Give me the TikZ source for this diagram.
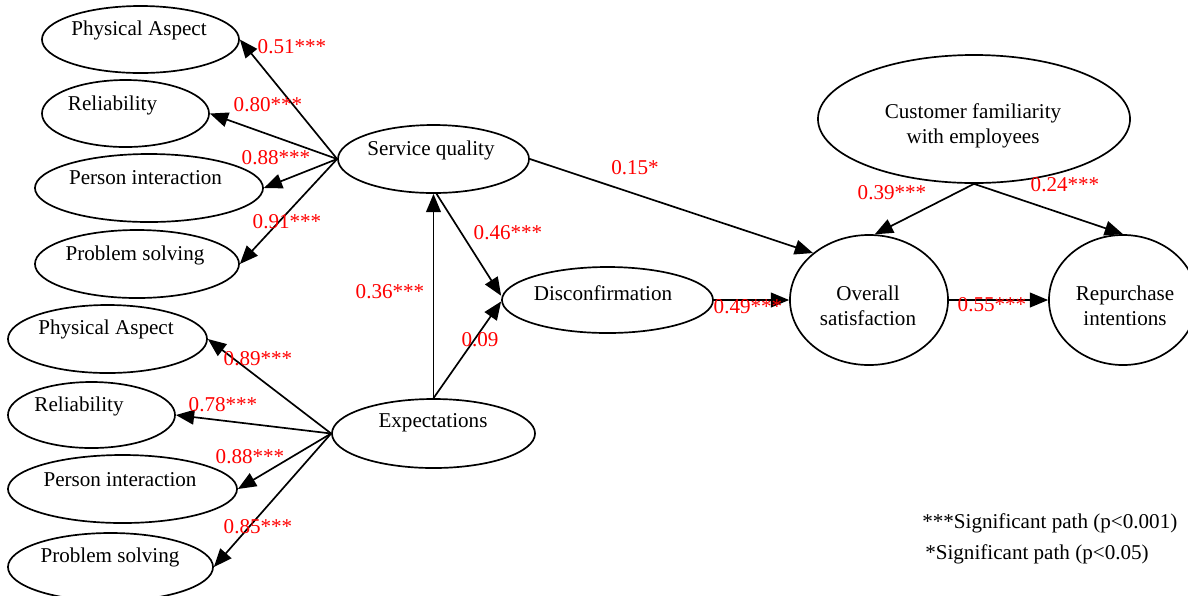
\documentclass[tikz,border=0pt]{standalone}
\usepackage{fontspec}
\setmainfont{Liberation Serif}
\usetikzlibrary{shapes.geometric,arrows.meta}

\tikzset{
    factor/.style={draw, ellipse, line width=1.2pt, inner sep=0pt},
    link/.style={line width=1.2pt, -{Triangle[length=13pt,width=10.5pt]}},
    coef/.style={text=red, inner sep=0pt},
}

\begin{document}
\begin{tikzpicture}[x=0.025cm, y=-0.025cm, every node/.style={font=\fontsize{15}{18}\selectfont}]
    \useasboundingbox (0,0) rectangle (1188,595);
    \clip (0,0) rectangle (1188,595);

    % Dimensions of service quality
    \node[factor, minimum width=4.925cm, minimum height=1.675cm, label={[shift={(-1.5,-9.5)}]center:Physical Aspect}] (pa1) at (140.5,39.5) {};
    \node[factor, minimum width=4.175cm, minimum height=1.675cm, label={[shift={(-13,-8.5)}]center:Reliability}] (rel1) at (125.5,113.5) {};
    \node[factor, minimum width=5.7cm, minimum height=1.7cm, label={[shift={(-3.5,-10)}]center:Person interaction}] (pi1) at (149,188) {};
    \node[factor, minimum width=5.1cm, minimum height=1.7cm, label={[shift={(-2,-9)}]center:Problem solving}] (ps1) at (137,264) {};

    % Dimensions of expectations
    \node[factor, minimum width=4.975cm, minimum height=1.7cm, label={[shift={(-1.5,-10)}]center:Physical Aspect}] (pa2) at (107.5,339) {};
    \node[factor, minimum width=4.175cm, minimum height=1.65cm, label={[shift={(-12.5,-9)}]center:Reliability}] (rel2) at (91.5,415) {};
    \node[factor, minimum width=5.725cm, minimum height=1.7cm, label={[shift={(-2.5,-9)}]center:Person interaction}] (pi2) at (122.5,489) {};
    \node[factor, minimum width=5.125cm, minimum height=1.7cm, label={[shift={(-0.5,-10)}]center:Problem solving}] (ps2) at (110.5,567) {};

    % Main constructs
    \node[factor, minimum width=4.775cm, minimum height=1.7cm, label={[shift={(-2.5,-9)}]center:Service quality}] (sq) at (433.5,159) {};
    \node[factor, minimum width=5.075cm, minimum height=1.725cm, label={[shift={(-0.5,-10.5)}]center:Expectations}] (exp) at (433.5,433.5) {};
    \node[factor, minimum width=5.275cm, minimum height=1.65cm, label={[shift={(-4.5,-7)}]center:Disconfirmation}] (disc) at (607.5,300) {};
    \node[factor, minimum width=7.8cm, minimum height=3.2cm, label={[align=center, shift={(-1,6.5)}]center:{Customer familiarity\\with employees}}] (cf) at (974,119) {};
    \node[factor, minimum width=3.95cm, minimum height=3.25cm, label={[align=center, shift={(-1,5.5)}]center:{Overall\\satisfaction}}] (ov) at (869,300) {};
    \node[factor, minimum width=3.7cm, minimum height=3.25cm, label={[align=center, shift={(2,5.5)}]center:{Repurchase\\intentions}}] (rp) at (1123,300) {};

    % Loadings
    \draw[link] (sq.west) -- (pa1.east);
    \draw[link] (sq.west) -- (rel1.east);
    \draw[link] (sq.west) -- (pi1.east);
    \draw[link] (sq.west) -- (ps1.east);
    \draw[link] (exp.west) -- (pa2.east);
    \draw[link] (exp.west) -- (rel2.east);
    \draw[link] (exp.west) -- (pi2.east);
    \draw[link] (exp.west) -- (ps2.east);

    % Structural paths
    \draw[link] (exp.north) -- (sq.south);
    \draw[link] (sq.-85) -- ([yshift=3pt]disc.west);
    \draw[link] (exp.north) -- ([yshift=-1pt]disc.west);
    \draw[link] (sq.east) -- (ov.140);
    \draw[link] (disc.east) -- (ov.west);
    \draw[link] (ov.east) -- (rp.west);
    \draw[link] (cf.south) -- (ov.85);
    \draw[link] (cf.south) -- (rp.north);

    % Path coefficients
    \node[coef] (c51) at (292,47) {0.51***};
    \node[coef] (c80) at (268,105) {0.80***};
    \node[coef] (c88a) at (276,158) {0.88***};
    \node[coef] (c91) at (287,222) {0.91***};
    \node[coef] (c89) at (258,359) {0.89***};
    \node[coef] (c78) at (223,405) {0.78***};
    \node[coef] (c88b) at (250,457) {0.88***};
    \node[coef] (c85) at (258,527) {0.85***};
    \node[coef] (c36) at (390,292) {0.36***};
    \node[coef] (c46) at (508,233) {0.46***};
    \node[coef] (c09) at (480,340) {0.09};
    \node[coef] (c15) at (635,168) {0.15*};
    \node[coef] (c49) at (748,307) {0.49***};
    \node[coef] (c55) at (992,305) {0.55***};
    \node[coef] (c39) at (892,193) {0.39***};
    \node[coef] (c24) at (1065,185) {0.24***};

    % Legend
    \node[anchor=west, inner sep=0pt] (sig3) at (922,523) {***Significant path (p<0.001)};
    \node[anchor=west, inner sep=0pt] (sig1) at (925,554) {*Significant path (p<0.05)};

\end{tikzpicture}
\end{document}
